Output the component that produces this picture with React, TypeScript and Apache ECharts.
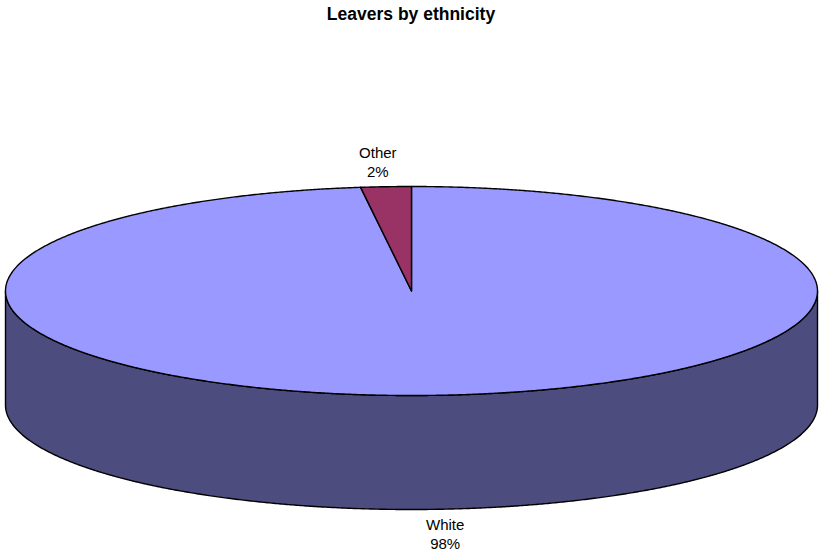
import React, { useEffect, useRef } from "react";
import * as echarts from "echarts";

// Slice data, in clockwise order starting at 12 o'clock
const categories = ["White", "Other"];
const values = [98, 2];

// Top-face and side-wall colours per slice
const topColors = ["#9999FF", "#993366"];
const sideColors = ["#4C4C7F", "#4C1933"];

const TITLE = "Leavers by ethnicity";
const FONT = '"Liberation Sans", Arial, sans-serif';

// Ellipse geometry of the tilted pie
const CX = 411.5;
const CY = 291;
const RX = 406;
const RY = 104.5;
const DEPTH = 114;
const LABEL_R = 1.32;

const total = values.reduce((s, v) => s + v, 0);

function pt(a: number, dy = 0): number[] {
  return [CX + RX * Math.sin(a), CY - RY * Math.cos(a) + dy];
}

function arcPoints(a1: number, a2: number, dy = 0): number[][] {
  const n = Math.max(2, Math.ceil(Math.abs(a2 - a1) / 0.005));
  const out: number[][] = [];
  for (let i = 0; i <= n; i++) out.push(pt(a1 + ((a2 - a1) * i) / n, dy));
  return out;
}

export default function App() {
  const ref = useRef<HTMLDivElement>(null);

  useEffect(() => {
    if (!ref.current) return;
    const chart = echarts.init(ref.current, undefined, { renderer: "svg" });

    const renderItem = (params: any, api: any) => {
      const idx = params.dataIndex;
      const v = api.value(1);
      let before = 0;
      for (let i = 0; i < idx; i++) before += values[i];
      const a1 = (before / total) * Math.PI * 2;
      const a2 = ((before + v) / total) * Math.PI * 2;
      const children: any[] = [];

      // Outer wall, only over the front half of the ellipse
      const s1 = Math.max(a1, Math.PI / 2);
      const s2 = Math.min(a2, (Math.PI * 3) / 2);
      if (s2 > s1) {
        const top = arcPoints(s1, s2);
        const bottom = arcPoints(s2, s1, DEPTH);
        children.push({
          type: "polygon",
          shape: { points: top.concat(bottom) },
          style: { fill: sideColors[idx], stroke: "#000", lineWidth: 1.4 },
        });
      }

      // Top face
      children.push({
        type: "polygon",
        shape: { points: [[CX, CY]].concat(arcPoints(a1, a2)) },
        style: { fill: topColors[idx], stroke: "#000", lineWidth: 1.4, lineJoin: "round" },
      });

      // Category and percentage label
      const m = (a1 + a2) / 2;
      const back = Math.cos(m) >= 0;
      const lx = CX + RX * LABEL_R * Math.sin(m);
      const ly = back
        ? CY - RY * Math.cos(m) - 24.5
        : CY - RY * Math.cos(m) + DEPTH + 24.5;
      children.push({
        type: "text",
        x: lx,
        y: ly,
        style: {
          text: categories[idx] + "\n" + Math.round((v / total) * 100) + "%",
          align: "center",
          verticalAlign: "middle",
          fontFamily: FONT,
          fontSize: 15,
          lineHeight: 19,
          fill: "#000",
        },
      });

      return { type: "group", children };
    };

    chart.setOption({
      animation: false,
      backgroundColor: "#FFFFFF",
      title: {
        text: TITLE,
        left: "center",
        top: 0,
        textStyle: { fontFamily: FONT, fontSize: 17.5, fontWeight: "bold", color: "#000" },
      },
      series: [
        {
          type: "custom",
          coordinateSystem: "none",
          data: values.map((v, i) => [i, v]),
          renderItem,
        },
      ],
    });

    return () => chart.dispose();
  }, []);

  return (
    <div
      ref={ref}
      style={{ position: "fixed", left: 0, top: 0, width: 822, height: 556 }}
    />
  );
}
